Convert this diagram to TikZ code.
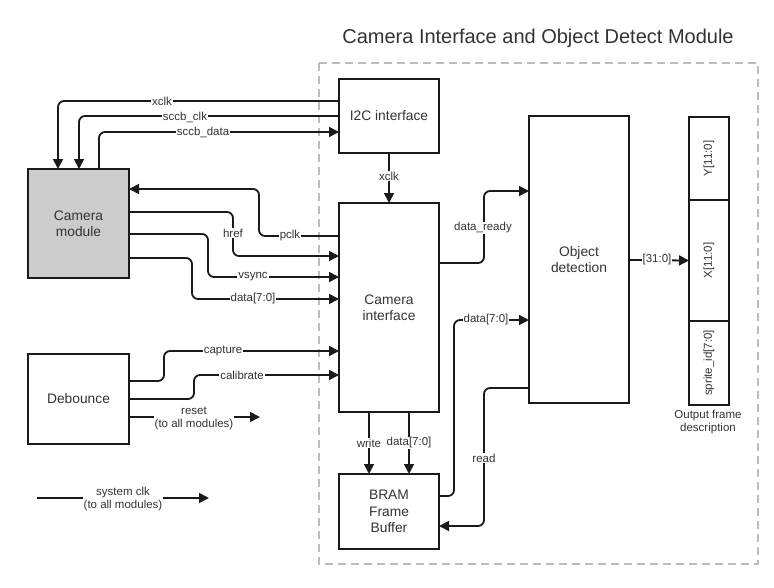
\documentclass[tikz,border=0pt]{standalone}
\usepackage{fontspec}
\setmainfont{Liberation Sans}
\usetikzlibrary{arrows.meta}
\definecolor{ln}{HTML}{1A1A1A}
\definecolor{txt}{HTML}{333333}
\definecolor{camgray}{HTML}{CCCCCC}
\definecolor{dashc}{HTML}{BDBDBD}
\begin{document}
\begin{tikzpicture}[x=1pt,y=-1pt,
 box/.style={draw=ln, line width=1.8pt, fill=white, inner sep=0pt, outer sep=0pt, minimum width=100pt, align=center, font=\fontsize{13.8}{16.2}\selectfont, text=txt},
 fbox/.style={draw=ln, line width=1.5pt, inner sep=0pt, outer sep=0pt, minimum height=40pt, rotate=90, font=\fontsize{11.5}{13}\selectfont, text=txt},
 wire/.style={draw=ln, line width=1.8pt, rounded corners=6pt},
 arr/.style={wire, -{Triangle[length=10pt,width=10pt]}},
 lbl/.style={fill=white, inner sep=1pt, font=\fontsize{11.5}{13}\selectfont, text=txt, align=center},
]
\useasboundingbox (0,0) rectangle (774,587);
\draw[draw=dashc, line width=1.5pt, dash pattern=on 8pt off 5pt] (319,63) rectangle (758,564);
\node[font=\fontsize{20}{23}\selectfont, text=txt] (title) at (538,38) {Camera Interface and Object Detect Module};

% boxes
\node[box, minimum height=74pt] (i2c) at (389,116) {I2C interface};
\node[box, fill=camgray, minimum height=109pt, minimum width=101pt] (cam) at (78.5,223.5) {Camera\\module};
\node[box, minimum height=90pt, minimum width=101pt] (deb) at (78.5,399) {Debounce};
\node[box, minimum height=209pt] (ci) at (389,307.5) {Camera\\interface};
\node[box, minimum height=75pt] (bram) at (389,511.5) {BRAM\\Frame\\Buffer};
\node[box, minimum height=287pt] (od) at (579,259.5) {Object\\detection};

% output frame description
\node[fbox, minimum width=83pt] (ofY) at (709,158.5) {Y[11:0]};
\node[fbox, minimum width=121pt] (ofX) at (709,260.5) {X[11:0]};
\node[fbox, minimum width=84pt] (ofS) at (709,363) {sprite\_id[7:0]};
\node[lbl, fill=none] (ofd) at (708,422.5) {Output frame\\description};

% free-end coordinates
\coordinate (rstB) at (260,417);
\coordinate (sysA) at (37,498);
\coordinate (sysB) at (209,498);

% I2C <-> camera module
\draw[arr] (i2c.west |- 0,101) -| (cam.north -| 58,0);
\draw[arr] (i2c.west) -| (cam.north -| 79,0);
\draw[arr] (cam.north -| 99,0) |- (i2c.west |- 0,132);

% camera module <-> camera interface
\draw[arr] (ci.west |- 0,236) -| (259,189) -- (cam.east |- 0,189);
\draw[arr] (cam.east |- 0,212) -| (233,256) -- (ci.west |- 0,256);
\draw[arr] (cam.east |- 0,234) -| (208,277) -- (ci.west |- 0,277);
\draw[arr] (cam.east |- 0,258) -| (192,299) -- (ci.west |- 0,299);

% debounce
\draw[arr] (deb.east |- 0,381) -| (164,351) -- (ci.west |- 0,351);
\draw[arr] (deb.east |- 0,399) -| (194,375) -- (ci.west |- 0,375);
\draw[arr] (deb.east |- 0,417) -- (rstB);
\draw[arr] (sysA) -- (sysB);

% inside module
\draw[arr] (i2c.south) -- (ci.north);
\draw[arr] (ci.east |- 0,263) -| (484,191) -- (od.west |- 0,191);
\draw[arr] (bram.east |- 0,496) -| (454,320) -- (od.west |- 0,320);
\draw[arr] (od.west |- 0,388) -| (484,526) -- (bram.east |- 0,526);
\draw[arr] (ci.south -| 369,0) -- (bram.north -| 369,0);
\draw[arr] (ci.south -| 409,0) -- (bram.north -| 409,0);
\draw[arr] (od.east |- 0,260) -- (ofX.north);

% labels
\node[lbl] (lxclk) at (162,101) {xclk};
\node[lbl] (lsclk) at (185,117) {sccb\_clk};
\node[lbl] (lsdat) at (203,132) {sccb\_data};
\node[lbl] (lpclk) at (290,236) {pclk};
\node[lbl] (lhref) at (233,233) {href};
\node[lbl] (lvsync) at (253,277) {vsync};
\node[lbl] (ldata) at (253,299) {data[7:0]};
\node[lbl] (lcap) at (223,351) {capture};
\node[lbl] (lcal) at (242,375) {calibrate};
\node[lbl, inner sep=0.5pt] (lrst) at (194,418) {reset\\(to all modules)};
\node[lbl, inner sep=0.5pt] (lsys) at (123,499) {system clk\\(to all modules)};
\node[lbl] (lxclk2) at (389,176) {xclk};
\node[lbl] (ldr) at (483,228) {data\_ready};
\node[lbl] (ldat2) at (486,320) {data[7:0]};
\node[lbl] (lread) at (484,458) {read};
\node[lbl] (lwrite) at (369,443) {write};
\node[lbl] (ldat3) at (409,443) {data[7:0]};
\node[lbl] (l31) at (657,260) {[31:0]};
\end{tikzpicture}
\end{document}
